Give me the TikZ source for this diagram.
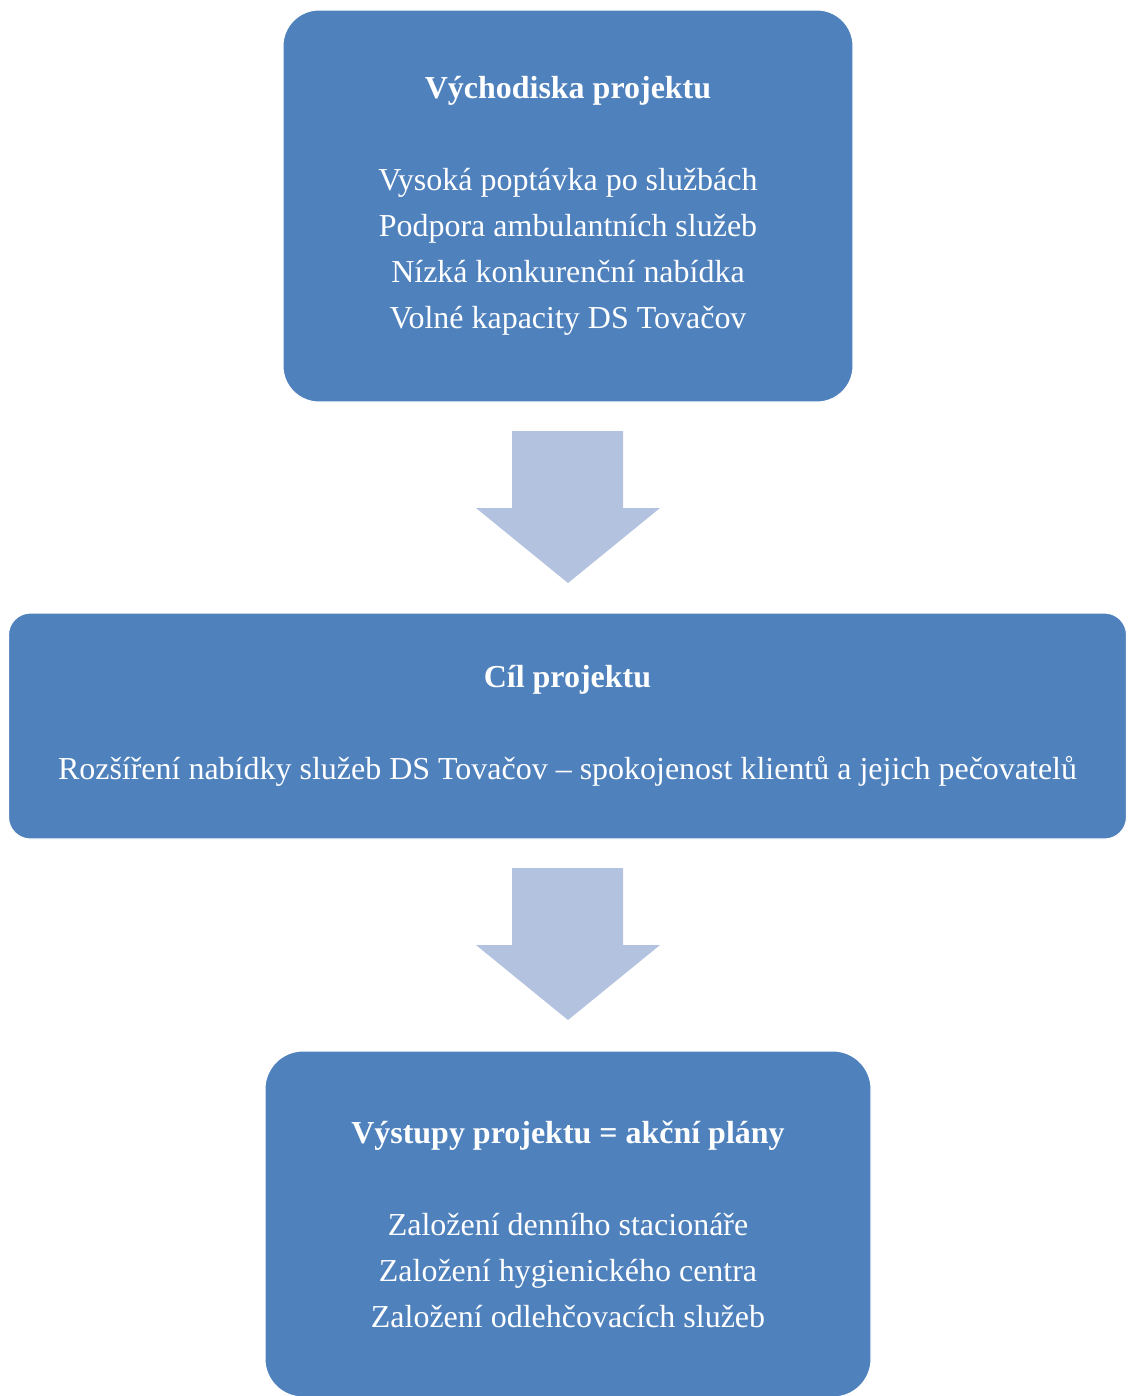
\documentclass[tikz,border=0pt]{standalone}
\usepackage{fontspec}
\setmainfont{Liberation Serif}
\definecolor{boxblue}{HTML}{4F81BD}
\definecolor{arrowblue}{HTML}{B3C2DE}
\tikzset{
  box/.style={fill=boxblue, draw=white, line width=0.6pt, text=white, align=center,
    inner sep=0pt, font=\fontsize{18.2}{26.2}\selectfont},
  arrowfill/.style={fill=arrowblue}
}
\begin{document}
\begin{tikzpicture}[x=0.02cm, y=-0.02cm]
    \useasboundingbox (0, 0) rectangle (1127, 1396);

    % Starting points
    \node [box, rounded corners=0.72cm, minimum width=570*0.02cm, minimum height=392*0.02cm]
      (vychodiska) at (568, 206) {\textbf{Východiska projektu}\\[26.2pt]
        Vysoká poptávka po službách\\ Podpora ambulantních služeb\\
        Nízká konkurenční nabídka\\ Volné kapacity DS Tovačov};

    % Goal
    \node [box, rounded corners=0.44cm, minimum width=1118*0.02cm, minimum height=226*0.02cm]
      (cil) at (567.5, 726) {\textbf{Cíl projektu}\\[26.2pt]
        Rozšíření nabídky služeb DS Tovačov -- spokojenost klientů a jejich pečovatelů};

    % Outputs
    \node [box, rounded corners=0.76cm, minimum width=606*0.02cm, minimum height=346*0.02cm]
      (vystupy) at (568, 1224) {\textbf{Výstupy projektu = akční plány}\\[26.2pt]
        Založení denního stacionáře\\ Založení hygienického centra\\
        Založení odlehčovacích služeb};

    % Arrows
    \foreach \y in {431, 868}
      \fill [arrowfill] (512, \y) -- ++(111, 0) -- ++(0, 77) -- ++(37, 0)
        -- (568, \y+152) -- (476, \y+77) -- ++(36, 0) -- cycle;
  \end{tikzpicture}
\end{document}
